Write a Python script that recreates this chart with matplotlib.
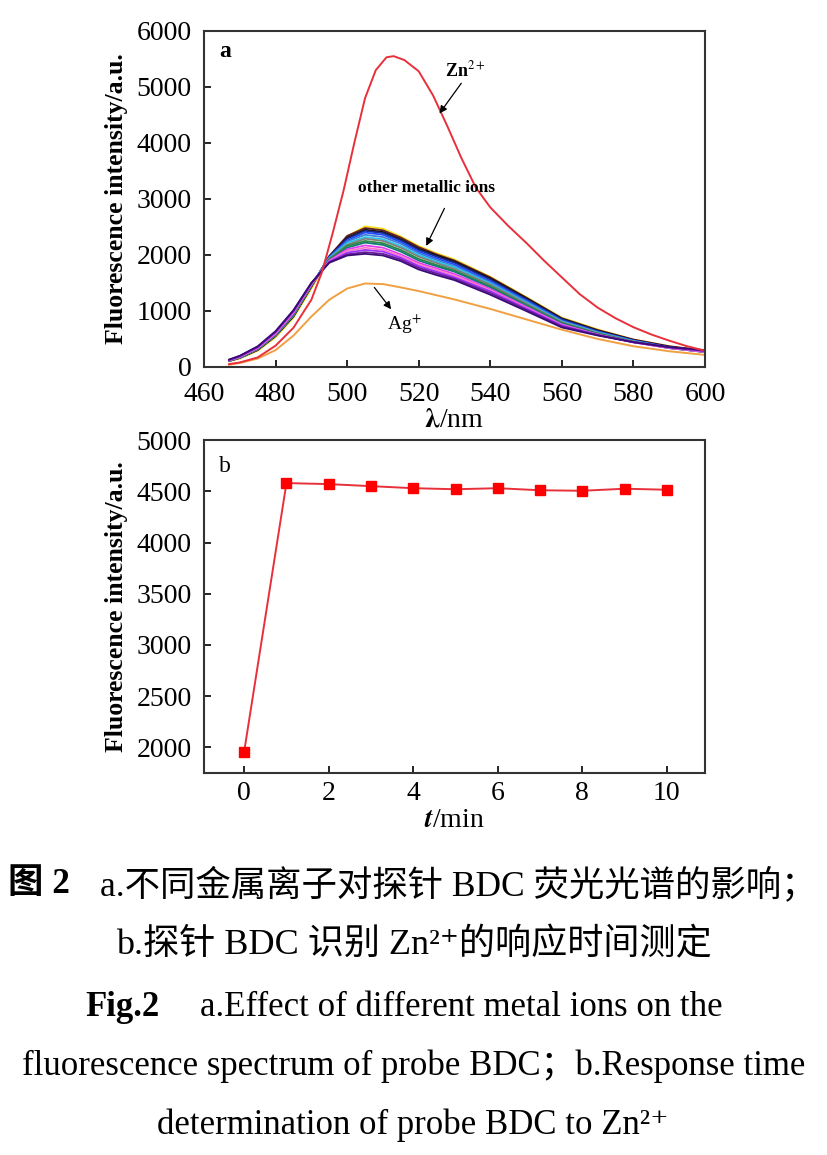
import matplotlib
matplotlib.use('Agg')
import matplotlib.pyplot as plt

plt.rcParams['font.family'] = ['Liberation Serif', 'DejaVu Serif', 'Noto Sans CJK SC']
plt.rcParams['mathtext.fontset'] = 'stix'

# ---- panel a: spectra ----
wl = [467, 470, 475, 480, 485, 490, 495, 500, 505, 510, 515, 520, 525, 530,
      540, 550, 560, 570, 580, 590, 600]

zn_wl = [467, 470, 475, 480, 485, 490, 493, 496, 499, 502, 505, 508, 511, 513,
         516, 520, 524, 528, 532, 536, 540, 545, 550, 555, 560, 565, 570, 575,
         580, 585, 590, 595, 600]
zn = [50, 80, 170, 380, 700, 1200, 1700, 2400, 3150, 4000, 4800, 5300, 5530, 5550,
      5480, 5280, 4850, 4300, 3720, 3200, 2850, 2520, 2220, 1900, 1600, 1300, 1060, 870,
      710, 580, 470, 370, 290]

ag = [40, 70, 150, 300, 560, 900, 1200, 1400, 1490, 1480, 1420, 1355, 1280, 1205,
      1036, 850, 665, 500, 370, 280, 215]

other_ions = [
    [100, 150, 290, 530, 880, 1400, 1950, 2330, 2510, 2470, 2330, 2160, 2030, 1920, 1610, 1250, 880, 670, 490, 370, 290],
    [105, 160, 300, 550, 900, 1430, 1980, 2340, 2480, 2440, 2310, 2140, 2010, 1900, 1600, 1240, 870, 660, 490, 370, 290],
    [110, 165, 310, 560, 910, 1440, 1970, 2310, 2450, 2410, 2280, 2110, 1990, 1880, 1580, 1230, 860, 650, 480, 360, 285],
    [110, 165, 315, 565, 920, 1450, 1970, 2290, 2430, 2390, 2260, 2090, 1970, 1860, 1560, 1210, 850, 640, 475, 355, 280],
    [112, 168, 318, 568, 925, 1455, 1960, 2260, 2400, 2360, 2230, 2060, 1940, 1830, 1530, 1190, 830, 630, 470, 350, 275],
    [112, 170, 320, 570, 930, 1460, 1950, 2240, 2360, 2320, 2200, 2030, 1910, 1800, 1510, 1170, 820, 620, 465, 348, 272],
    [110, 170, 320, 570, 930, 1460, 1940, 2210, 2320, 2280, 2160, 2000, 1880, 1780, 1490, 1150, 810, 615, 460, 345, 270],
    [110, 168, 318, 568, 928, 1450, 1930, 2180, 2290, 2250, 2130, 1970, 1855, 1750, 1470, 1135, 800, 605, 455, 342, 268],
    [110, 170, 320, 572, 935, 1455, 1920, 2160, 2250, 2210, 2090, 1930, 1820, 1720, 1440, 1110, 785, 595, 448, 338, 266],
    [112, 172, 325, 578, 945, 1460, 1910, 2130, 2220, 2180, 2060, 1900, 1795, 1700, 1420, 1095, 775, 588, 443, 336, 265],
    [115, 178, 335, 590, 960, 1470, 1900, 2100, 2170, 2130, 2010, 1860, 1760, 1660, 1390, 1075, 760, 580, 440, 338, 268],
    [118, 182, 340, 600, 975, 1480, 1890, 2070, 2130, 2090, 1980, 1830, 1730, 1630, 1370, 1060, 750, 575, 438, 340, 270],
    [122, 188, 350, 615, 990, 1490, 1880, 2040, 2090, 2060, 1950, 1800, 1700, 1600, 1350, 1045, 740, 572, 440, 345, 278],
    [128, 195, 360, 630, 1005, 1500, 1870, 2010, 2050, 2020, 1920, 1770, 1670, 1575, 1320, 1025, 725, 570, 445, 352, 290],
    [132, 200, 368, 640, 1015, 1500, 1860, 1990, 2020, 1990, 1890, 1740, 1640, 1550, 1290, 1000, 705, 562, 442, 355, 300],
]
other_colors = ['#f2e21b', '#6b1d2a', '#111111', '#1c2b8c', '#1f4cff', '#3f7fd6', '#2bc4e8',
                '#7d7d7d', '#2e8b3a', '#157a7a', '#e23ff0', '#ff79c6', '#9b30ff', '#6a1b9a',
                '#3b0b78']

# ---- panel b: response time ----
t_min = [0, 1, 2, 3, 4, 5, 6, 7, 8, 9, 10]
intensity_t = [1960, 4580, 4570, 4550, 4530, 4520, 4530, 4510, 4505, 4525, 4515]

fig = plt.figure(figsize=(8.28, 11.55), dpi=100)
ax1 = fig.add_axes([0.2464, 0.6823, 0.605, 0.2909])
ax2 = fig.add_axes([0.2464, 0.3307, 0.605, 0.2883])

for vals, c in zip(other_ions, other_colors):
    ax1.plot(wl, vals, color=c, lw=1.3)
ax1.plot(wl, ag, color='#f0a040', lw=1.4)
ax1.plot(zn_wl, zn, color='#e8303a', lw=1.4)

ax1.set_xlim(460, 600)
ax1.set_ylim(0, 6000)
ax1.set_xticks(range(460, 601, 20))
ax1.set_yticks(range(0, 6001, 1000))
ax1.set_xlabel(r'$\boldsymbol{\lambda}$/nm', fontsize=20, labelpad=0)
ax1.set_ylabel('Fluorescence intensity/a.u.', fontsize=18.5, fontweight='bold', labelpad=6)
ax1.text(0.03, 0.94, 'a', transform=ax1.transAxes, fontsize=17, fontweight='bold', va='center')

arrow = dict(arrowstyle='-|>', color='black', lw=0.9, mutation_scale=11, shrinkA=0, shrinkB=0)
ax1.text(533, 5300, 'Zn$^{2+}$', fontsize=13, fontweight='bold', ha='center', va='center')
ax1.annotate('', xy=(525.8, 4527), xytext=(531.9, 5066), arrowprops=arrow)
ax1.text(522.2, 3200, 'other metallic ions', fontsize=12.5, fontweight='bold',
         ha='center', va='center')
ax1.annotate('', xy=(522.1, 2162), xytext=(527.2, 2832), arrowprops=arrow)
ax1.text(516, 770, 'Ag$^{+}$', fontsize=14, ha='center', va='center')
ax1.annotate('', xy=(512.3, 1030), xytext=(507.6, 1420), arrowprops=arrow)

ax2.plot(t_min, intensity_t, color='#e8303a', lw=1.4, marker='s', markersize=6.5,
         markerfacecolor='#ff0000', markeredgecolor='#ff0000')
ax2.set_xlim(-0.95, 10.9)
ax2.set_ylim(1750, 5000)
ax2.set_xticks(range(0, 11, 2))
ax2.set_yticks(range(2000, 5001, 500))
ax2.set_xlabel(r'$\boldsymbol{t}$/min', fontsize=20, labelpad=1)
ax2.set_ylabel('Fluorescence intensity/a.u.', fontsize=18.5, fontweight='bold', labelpad=6)
ax2.text(0.03, 0.92, 'b', transform=ax2.transAxes, fontsize=17, va='center')

for ax in (ax1, ax2):
    ax.tick_params(direction='in', length=5, width=1.2, labelsize=20, top=False, right=False)
    ax.tick_params(axis='y', pad=9)
    for sp in ax.spines.values():
        sp.set_linewidth(1.5)
        sp.set_color('#333333')
ax1.tick_params(axis='x', pad=11)
ax2.tick_params(axis='x', pad=6)

# ---- caption ----
fig.text(0.0097, 0.2338, '图 2', fontsize=25.5, fontweight='bold', va='center', ha='left')
fig.text(0.1208, 0.2338, 'a.不同金属离子对探针 BDC 荧光光谱的影响；', fontsize=25.5,
         va='center', ha='left')
fig.text(0.5, 0.1818, 'b.探针 BDC 识别 Zn²⁺的响应时间测定', fontsize=26, va='center', ha='center')
fig.text(0.1027, 0.1273, 'Fig.2', fontsize=25, fontweight='bold', va='center', ha='left')
fig.text(0.2415, 0.1273, 'a.Effect of different metal ions on the', fontsize=25,
         va='center', ha='left')
fig.text(0.5, 0.0771, 'fluorescence spectrum of probe BDC；b.Response time', fontsize=25,
         va='center', ha='center')
fig.text(0.498, 0.026, 'determination of probe BDC to Zn²⁺', fontsize=25, va='center', ha='center')

fig.savefig('out.png', dpi=100)
